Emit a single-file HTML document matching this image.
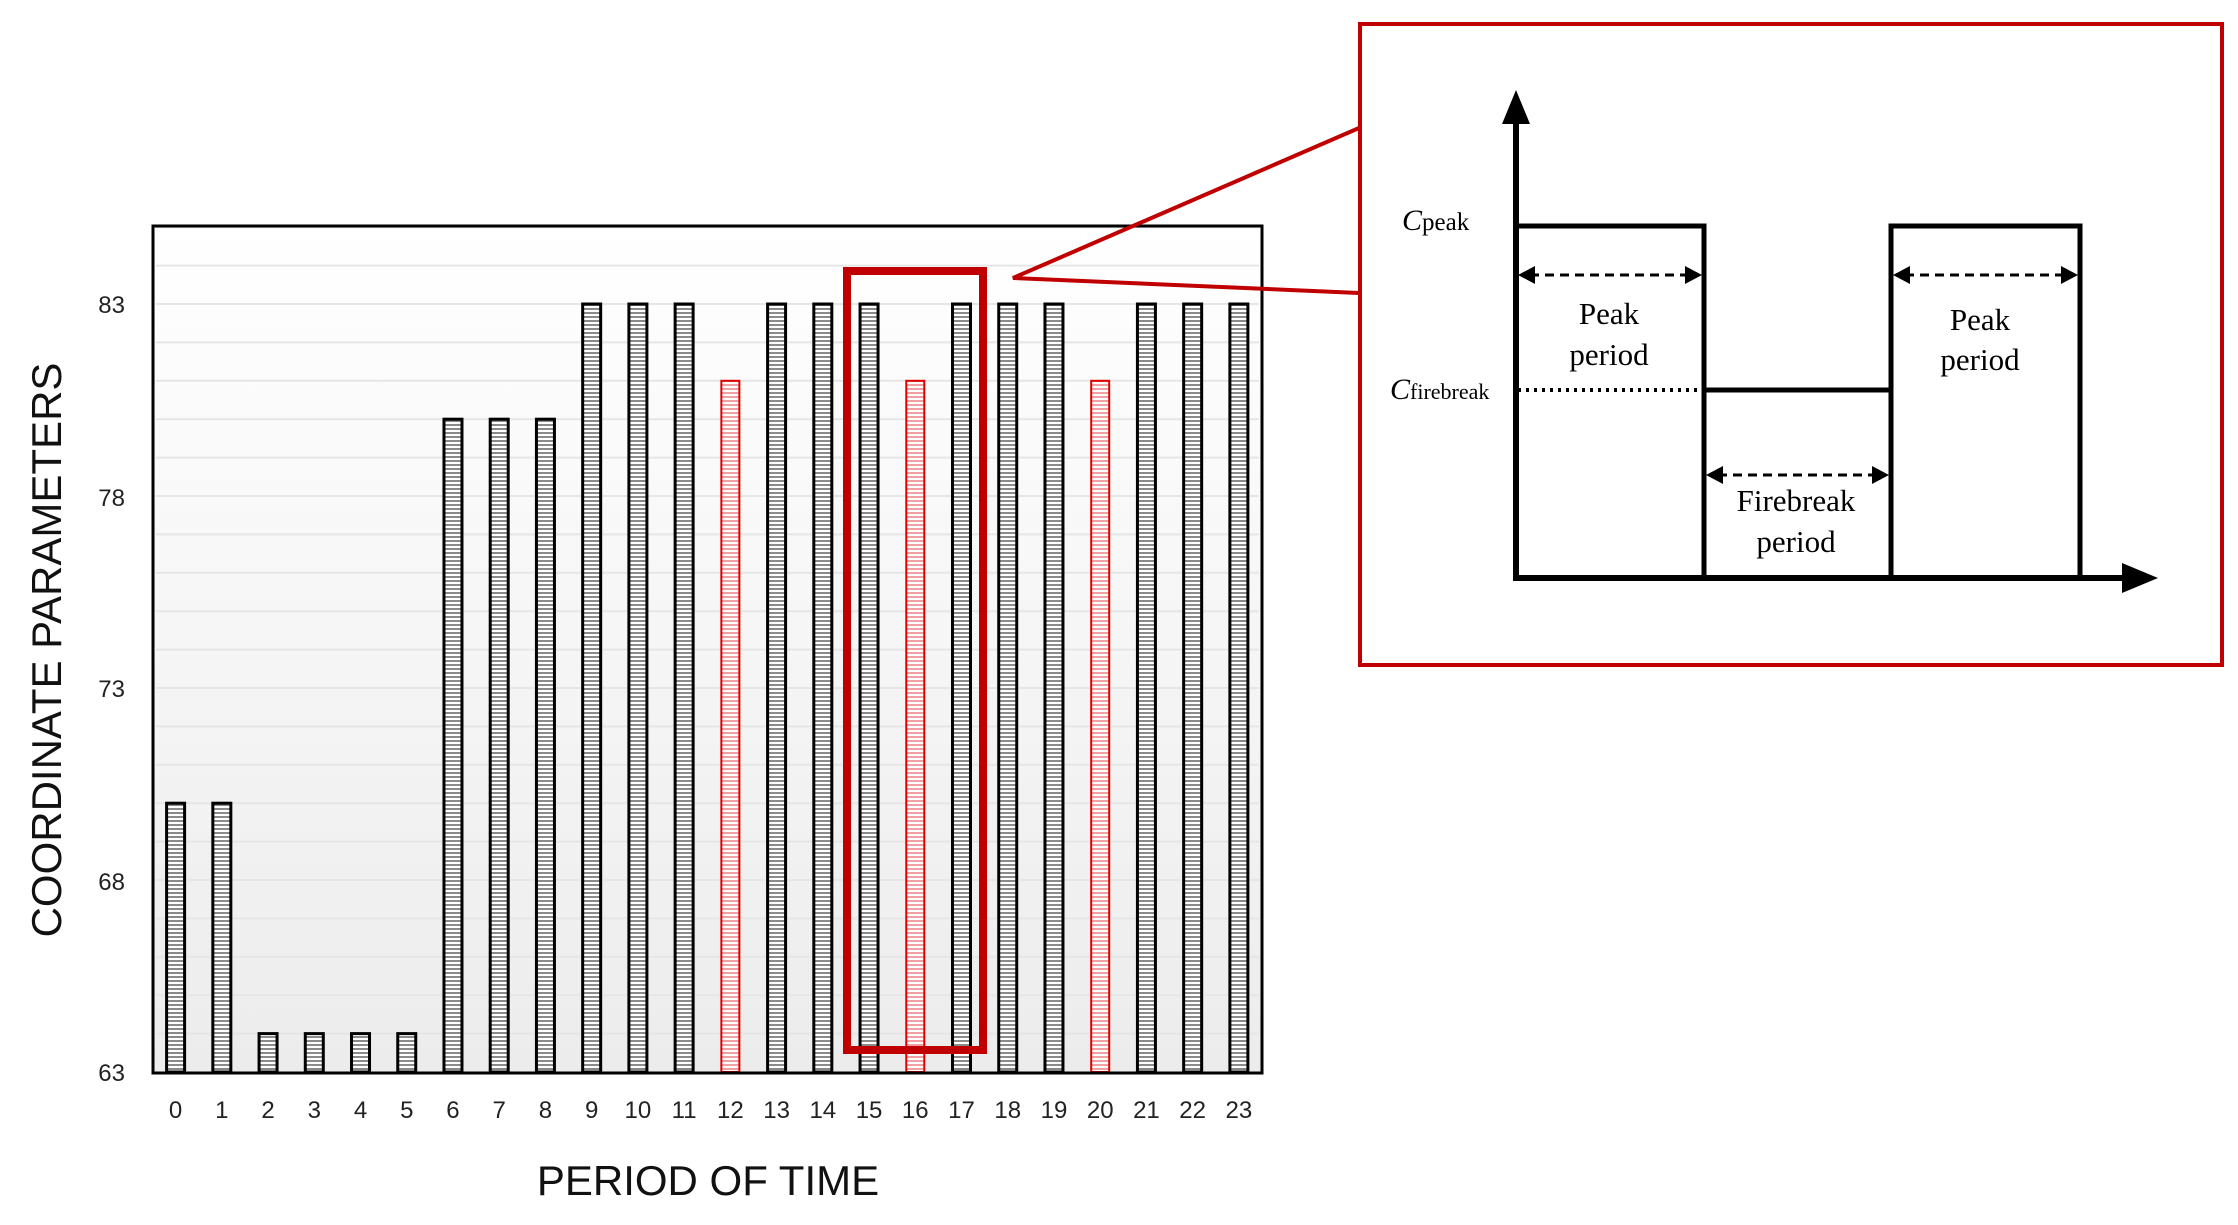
<!DOCTYPE html>
<html><head><meta charset="utf-8"><style>body{margin:0;background:#fff}svg{display:block}</style></head>
<body>
<svg width="2238" height="1225" viewBox="0 0 2238 1225" xmlns="http://www.w3.org/2000/svg">
<defs>
<linearGradient id="bg" x1="0" y1="0" x2="0" y2="1"><stop offset="0" stop-color="#fff"/><stop offset="1" stop-color="#ececec"/></linearGradient>
<pattern id="hb" width="8" height="4" patternUnits="userSpaceOnUse"><rect width="8" height="4" fill="#fff"/><rect width="8" height="2" fill="#8a8a8a"/></pattern>
<pattern id="hr" width="8" height="4" patternUnits="userSpaceOnUse"><rect width="8" height="4" fill="#fff"/><rect width="8" height="2" fill="#f0a0a0"/></pattern>
</defs>
<rect x="153" y="226" width="1109" height="847" fill="url(#bg)"/>
<g stroke="#e6e6e6" stroke-width="2" id="grid"></g>
<g id="bars"></g>
<rect x="153" y="226" width="1109" height="847" fill="none" stroke="#000" stroke-width="3"/>
<g font-family="Liberation Sans, sans-serif" font-size="24" text-anchor="end" fill="#222">
<text x="125" y="313">83</text><text x="125" y="506">78</text><text x="125" y="697">73</text><text x="125" y="890">68</text><text x="125" y="1081">63</text>
</g>
<g id="xl" font-family="Liberation Sans, sans-serif" font-size="24" text-anchor="middle" fill="#222"></g>
<text x="708" y="1195" font-family="Liberation Sans, sans-serif" font-size="42" text-anchor="middle" fill="#111">PERIOD OF TIME</text>
<text transform="translate(61,650) rotate(-90)" font-family="Liberation Sans, sans-serif" font-size="42" text-anchor="middle" fill="#111">COORDINATE PARAMETERS</text>
<rect x="847" y="271" width="136" height="779" fill="none" stroke="#c00000" stroke-width="8"/>
<polyline points="1359,128 1013,278 1359,293" fill="none" stroke="#c00000" stroke-width="4"/>
<rect x="1360" y="24" width="862" height="641" fill="#fff" stroke="#c00000" stroke-width="4"/>
<g stroke="#000" fill="none">
<line x1="1516" y1="120" x2="1516" y2="580" stroke-width="6"/>
<polygon points="1516,90 1502,124 1530,124" fill="#000" stroke="none"/>
<line x1="1513" y1="578" x2="2125" y2="578" stroke-width="6"/>
<polygon points="2158,578 2122,563 2122,593" fill="#000" stroke="none"/>
<polyline points="1516,226 1704,226 1704,578" stroke-width="5"/>
<polyline points="1704,390 1891,390" stroke-width="5"/>
<polyline points="1891,578 1891,226 2080,226 2080,578" stroke-width="5"/>
<line x1="1518" y1="390" x2="1702" y2="390" stroke-width="4" stroke-dasharray="3,5"/>
<line x1="1530" y1="275" x2="1690" y2="275" stroke-width="3" stroke-dasharray="9,6"/>
<line x1="1905" y1="275" x2="2066" y2="275" stroke-width="3" stroke-dasharray="9,6"/>
<line x1="1718" y1="475" x2="1877" y2="475" stroke-width="3" stroke-dasharray="9,6"/>
</g>
<g fill="#000">
<polygon points="1518,275 1535,266 1535,284"/><polygon points="1702,275 1685,266 1685,284"/>
<polygon points="1893,275 1910,266 1910,284"/><polygon points="2078,275 2061,266 2061,284"/>
<polygon points="1706,475 1723,466 1723,484"/><polygon points="1889,475 1872,466 1872,484"/>
</g>
<g font-family="Liberation Serif, serif" font-size="31" text-anchor="middle" fill="#000">
<text x="1609" y="324">Peak</text><text x="1609" y="365">period</text>
<text x="1980" y="330">Peak</text><text x="1980" y="370">period</text>
<text x="1796" y="511">Firebreak</text><text x="1796" y="552">period</text>
</g>
<text x="1402" y="230" font-family="Liberation Serif, serif" font-size="30" fill="#000"><tspan font-style="italic">C</tspan><tspan font-size="25">peak</tspan></text>
<text x="1390" y="399" font-family="Liberation Serif, serif" font-size="30" fill="#000"><tspan font-style="italic">C</tspan><tspan font-size="22">firebreak</tspan></text>
<script>
var ns="http://www.w3.org/2000/svg";
function el(t,a,p){var e=document.createElementNS(ns,t);for(var k in a)e.setAttribute(k,a[k]);p.appendChild(e);return e;}
var g=document.getElementById('grid');
for(var v=64;v<=85;v++){var y=1072-(v-63)*38.4;el('line',{x1:156,x2:1259,y1:y,y2:y},g);}
var vals=[70,70,64,64,64,64,80,80,80,83,83,83,81,83,83,83,81,83,83,83,81,83,83,83];
var b=document.getElementById('bars'),xl=document.getElementById('xl');
for(var i=0;i<24;i++){var cx=175.6+i*46.23,y=1072-(vals[i]-63)*38.4,red=vals[i]==81;
el('rect',{x:cx-9,y:y,width:18,height:1072-y,fill:red?'url(#hr)':'url(#hb)',stroke:red?'#e00000':'#000','stroke-width':red?2:3},b);
var t=el('text',{x:cx,y:1118},xl);t.textContent=i;}
</script>
</svg>
</body></html>
